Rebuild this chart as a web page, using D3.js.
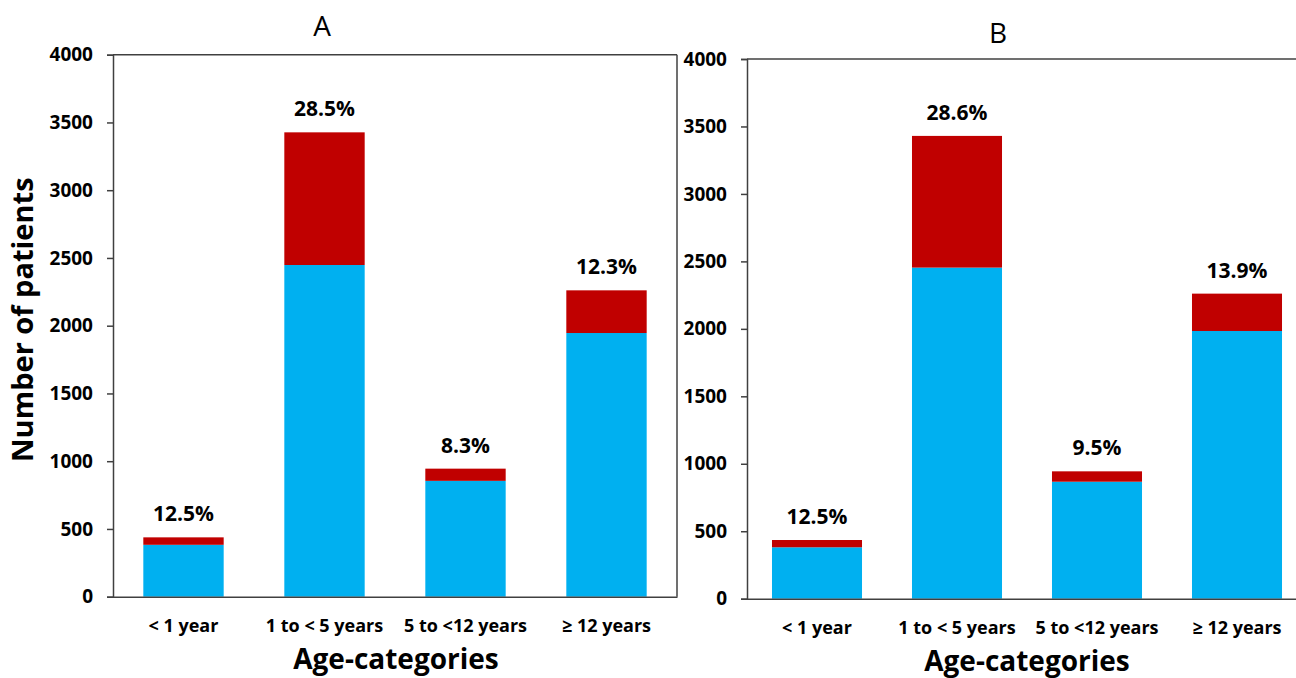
<!DOCTYPE html>
<html>
<head>
<meta charset="utf-8">
<script src="https://cdn.jsdelivr.net/npm/d3@7"></script>
<style>
  html, body { margin: 0; padding: 0; background: #fff; }
  svg { display: block; }
  text { font-family: "Open Sans", "Noto Sans", sans-serif; fill: #000; }
</style>
</head>
<body>
<svg id="chart" width="1296" height="678"></svg>
<script>
// ---- data ----
const categories = ["< 1 year", "1 to < 5 years", "5 to <12 years", "\u2265 12 years"];
const yTicks = [0, 500, 1000, 1500, 2000, 2500, 3000, 3500, 4000];

const panelATitle = "A";
const panelABlue = [383, 2448, 855, 1946];
const panelARed = [55, 979, 90, 315];
const panelALabels = ["12.5%", "28.5%", "8.3%", "12.3%"];

const panelBTitle = "B";
const panelBBlue = [381, 2454, 867, 1984];
const panelBRed = [54, 976, 77, 277];
const panelBLabels = ["12.5%", "28.6%", "9.5%", "13.9%"];

const yAxisTitle = "Number of patients";
const xAxisTitle = "Age-categories";

// ---- layout ----
const svg = d3.select("#chart");
const BLUE = "#00B0F0", RED = "#C00000", AXIS = "#404040";

const panels = [
  { title: panelATitle, blue: panelABlue, red: panelARed, labels: panelALabels,
    x0: 113, x1: 677, y0: 596.7, y1: 54.7, pad: 0.43, yTitle: true,
    titleX: 322, titleY: 36, catY: 632, xTitleX: 396, xTitleY: 669 },
  { title: panelBTitle, blue: panelBBlue, red: panelBRed, labels: panelBLabels,
    x0: 747, x1: 1307, y0: 598.7, y1: 59, pad: 0.357, yTitle: false,
    titleX: 998, titleY: 43, catY: 634, xTitleX: 1027, xTitleY: 671 }
];

panels.forEach(p => {
  const g = svg.append("g");
  const x = d3.scaleBand().domain(categories).range([p.x0, p.x1])
    .paddingInner(p.pad).paddingOuter(p.pad / 2);
  const y = d3.scaleLinear().domain([0, 4000]).range([p.y0, p.y1]);

  const rows = categories.map((c, i) => ({ c, blue: p.blue[i], red: p.red[i], label: p.labels[i] }));

  // bars
  g.selectAll("rect.blue").data(rows).join("rect")
    .attr("x", d => x(d.c)).attr("width", x.bandwidth())
    .attr("y", d => y(d.blue)).attr("height", d => y(0) - y(d.blue))
    .attr("fill", BLUE);
  g.selectAll("rect.red").data(rows).join("rect")
    .attr("x", d => x(d.c)).attr("width", x.bandwidth())
    .attr("y", d => y(d.blue + d.red)).attr("height", d => y(d.blue) - y(d.blue + d.red))
    .attr("fill", RED);

  // percentage labels
  g.selectAll("text.pct").data(rows).join("text")
    .attr("x", d => x(d.c) + x.bandwidth() / 2)
    .attr("y", d => y(d.blue + d.red) - 16)
    .attr("text-anchor", "middle")
    .attr("font-weight", "bold").attr("font-size", 21)
    .text(d => d.label);

  // frame (top and right borders)
  g.append("line").attr("x1", p.x0).attr("x2", p.x1).attr("y1", p.y1).attr("y2", p.y1)
    .attr("stroke", AXIS).attr("stroke-width", 1.5);
  g.append("line").attr("x1", p.x1).attr("x2", p.x1).attr("y1", p.y1).attr("y2", p.y0)
    .attr("stroke", AXIS).attr("stroke-width", 1.5);

  // y axis
  const yAxis = g.append("g").attr("transform", `translate(${p.x0},0)`)
    .call(d3.axisLeft(y).tickValues(yTicks).tickSize(6).tickPadding(14).tickFormat(d3.format("d")));
  yAxis.select(".domain").attr("stroke", AXIS).attr("stroke-width", 1.5);
  yAxis.selectAll(".tick line").attr("stroke", AXIS).attr("stroke-width", 1.5);
  yAxis.selectAll(".tick text").attr("font-family", "Open Sans, sans-serif")
    .attr("font-weight", "bold").attr("font-size", 19).attr("fill", "#000");

  // x axis
  const xAxis = g.append("g").attr("transform", `translate(0,${p.y0})`)
    .call(d3.axisBottom(x).tickSize(0).tickPadding(0));
  xAxis.select(".domain").attr("stroke", AXIS).attr("stroke-width", 1.5);
  xAxis.selectAll(".tick text").remove();
  g.selectAll("text.cat").data(categories).join("text")
    .attr("x", d => x(d) + x.bandwidth() / 2)
    .attr("y", p.catY)
    .attr("text-anchor", "middle")
    .attr("font-weight", "bold").attr("font-size", 18)
    .text(d => d);

  // titles
  g.append("text").attr("x", p.titleX).attr("y", p.titleY)
    .attr("text-anchor", "middle").attr("font-size", 28).text(p.title);
  g.append("text").attr("x", p.xTitleX).attr("y", p.xTitleY)
    .attr("text-anchor", "middle").attr("font-weight", "bold").attr("font-size", 28)
    .text(xAxisTitle);
  if (p.yTitle) {
    g.append("text").attr("transform", `translate(33,${(p.y0 + p.y1) / 2 - 6}) rotate(-90)`)
      .attr("text-anchor", "middle").attr("font-weight", "bold").attr("font-size", 29)
      .text(yAxisTitle);
  }
});
</script>
</body>
</html>
